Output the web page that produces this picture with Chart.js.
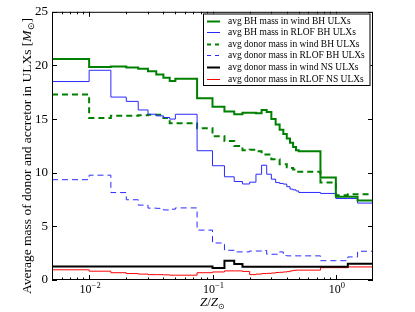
<!DOCTYPE html>
<html>
<head>
<meta charset="utf-8">
<script src="https://cdn.jsdelivr.net/npm/chart.js@4.4.0/dist/chart.umd.min.js"></script>
<style>
    html, body { margin: 0; padding: 0; background: #fff; }
</style>
</head>
<body>
<canvas id="chart" width="415" height="312"></canvas>
<script>
    // metallicity bin edges (Z/Zsun), one value per bin in each series
    const zEdges = [0.005, 0.01, 0.015, 0.02, 0.025, 0.03, 0.035, 0.04, 0.045, 0.05, 0.075, 0.1, 0.125, 0.15, 0.175, 0.2,
        0.225, 0.25, 0.275, 0.3, 0.325, 0.35, 0.375, 0.4, 0.425, 0.45, 0.475, 0.5, 0.75, 1.0, 1.25, 1.5, 2.0];

    const bhMassWindBH = [20.6, 19.85, 19.9, 19.8, 19.7, 19.45, 19.15, 18.85, 18.55, 18.75, 16.95, 16.15, 15.7, 15.45, 15.6, 15.6,
        15.55, 15.85, 15.65, 15.0, 14.5, 14.0, 13.6, 13.2, 12.8, 12.4, 12.1, 12.0, 9.55, 7.75, 7.75, 7.4];
    const bhMassRlofBH = [18.5, 19.55, 17.05, 16.65, 15.85, 15.45, 15.3, 15.15, 15.0, 15.45, 12.05, 10.65, 9.62, 9.18, 8.95, 9.12,
        9.86, 10.7, 9.86, 9.4, 9.08, 9.0, 8.94, 8.7, 8.47, 8.4, 8.3, 8.16, 8.07, 7.6, 7.6, 7.17];
    const donorMassWindBH = [17.3, 15.1, 15.3, 15.3, 15.35, 15.4, 15.4, 15.1, 14.6, 14.6, 14.15, 13.4, 12.95, 12.5, 12.1, 12.15,
        12.0, 11.7, 11.7, 11.25, 11.25, 10.8, 10.8, 10.5, 10.45, 10.3, 10.1, 10.1, 9.1, 7.9, 8.0, 8.0];
    const donorMassRlofBH = [9.35, 9.77, 8.15, 7.48, 6.98, 6.7, 6.68, 6.53, 6.6, 6.72, 4.65, 3.45, 2.77, 2.62, 2.62, 2.7,
        2.7, 2.75, 2.4, 2.4, 2.4, 2.62, 2.28, 2.25, 2.25, 2.25, 2.25, 2.25, 1.8, 1.8, 2.15, 2.68];
    const donorMassWindNS = [1.25, 1.25, 1.25, 1.25, 1.25, 1.25, 1.25, 1.25, 1.25, 1.25, 1.25, 1.12, 1.8, 1.5, 1.23, 1.23,
        1.23, 1.23, 1.23, 1.23, 1.23, 1.23, 1.23, 1.23, 1.23, 1.23, 1.23, 1.23, 1.23, 1.23, 1.52, 1.52];
    const donorMassRlofNS = [0.95, 0.82, 0.68, 0.6, 0.55, 0.5, 0.5, 0.48, 0.45, 0.45, 0.68, 0.75, 0.85, 0.85, 0.8, 0.5,
        0.55, 0.6, 0.62, 0.65, 0.7, 0.72, 0.75, 0.78, 0.85, 0.9, 0.92, 0.92, 1.15, 1.15, 1.22, 1.22];

    const seriesLabels = [
        'avg BH mass in wind BH ULXs',
        'avg BH mass in RLOF BH ULXs',
        'avg donor mass in wind BH ULXs',
        'avg donor mass in RLOF BH ULXs',
        'avg donor mass in wind NS ULXs',
        'avg donor mass in RLOF NS ULXs'
    ];

    const yTicks = [0, 5, 10, 15, 20, 25];
    const xTickValues = [0.01, 0.1, 1];
    const xTickExponents = ['\u22122', '\u22121', '0'];

    const serif = "'Liberation Serif', 'Times New Roman', serif";

    // step series: one point per bin edge, last bin value repeated at the right edge
    function steps(vals) {
        return zEdges.map((z, i) => ({ x: z, y: vals[Math.min(i, vals.length - 1)] }));
    }

    function drawRuns(ctx, runs, x0, y0) {
        let cx = x0;
        runs.forEach(r => {
            ctx.font = r.font;
            ctx.fillText(r.text, cx, y0 + (r.dy || 0));
            cx += ctx.measureText(r.text).width;
        });
        return cx - x0;
    }

    function runsWidth(ctx, runs) {
        let w = 0;
        runs.forEach(r => { ctx.font = r.font; w += ctx.measureText(r.text).width; });
        return w;
    }

    const axesLook = {
        id: 'axesLook',
        afterDatasetsDraw(chart) {
            const { ctx, chartArea: a, scales: { x, y } } = chart;
            ctx.save();
            ctx.strokeStyle = '#000';
            ctx.lineWidth = 1;

            // inward ticks on all four sides
            ctx.beginPath();
            yTicks.forEach(v => {
                const py = Math.round(y.getPixelForValue(v)) + 0.5;
                ctx.moveTo(a.left, py); ctx.lineTo(a.left + 5, py);
                ctx.moveTo(a.right, py); ctx.lineTo(a.right - 5, py);
            });
            for (let e = -3; e <= 0; e++) {
                for (let k = 1; k <= 9; k++) {
                    const v = k * Math.pow(10, e);
                    if (v <= 0.0051 || v >= 1.99) continue;
                    const px = Math.round(x.getPixelForValue(v)) + 0.5;
                    const len = k === 1 ? 5 : 2.5;
                    ctx.moveTo(px, a.bottom); ctx.lineTo(px, a.bottom - len);
                    ctx.moveTo(px, a.top); ctx.lineTo(px, a.top + len);
                }
            }
            ctx.stroke();
            ctx.strokeRect(a.left + 0.5, a.top + 0.5, a.right - a.left - 1, a.bottom - a.top - 1);

            // x tick labels 10^n
            ctx.fillStyle = '#000';
            ctx.textBaseline = 'alphabetic';
            ctx.textAlign = 'left';
            xTickValues.forEach((v, i) => {
                const runs = [
                    { text: '10', font: '12px ' + serif },
                    { text: xTickExponents[i], font: '8.5px ' + serif, dy: -5 }
                ];
                const w = runsWidth(ctx, runs);
                drawRuns(ctx, runs, x.getPixelForValue(v) - w / 2 + 1, a.bottom + 13);
            });

            // x axis title
            const xRuns = [
                { text: 'Z', font: 'italic 13px ' + serif },
                { text: '/', font: '13px ' + serif },
                { text: 'Z', font: 'italic 13px ' + serif },
                { text: '\u2299', font: '8px ' + serif, dy: 2.5 }
            ];
            const xw = runsWidth(ctx, xRuns);
            drawRuns(ctx, xRuns, (a.left + a.right) / 2 - xw / 2, a.bottom + 26);

            // y axis title, rotated
            const yRuns = [
                { text: 'Average mass of donor and accretor in ULXs [', font: '13.5px ' + serif },
                { text: 'M', font: 'italic 13.5px ' + serif },
                { text: '\u2299', font: '8.5px ' + serif, dy: 2.5 },
                { text: ']', font: '13.5px ' + serif }
            ];
            const yw = runsWidth(ctx, yRuns);
            ctx.translate(31, 156);
            ctx.rotate(-Math.PI / 2);
            drawRuns(ctx, yRuns, -yw / 2, 0);
            ctx.restore();
        },
        afterDraw(chart) {
            const { ctx } = chart;
            const box = { left: 203, top: 13.5, right: 370.5, bottom: 86 };
            ctx.save();
            ctx.fillStyle = '#fff';
            ctx.fillRect(box.left, box.top, box.right - box.left, box.bottom - box.top);
            ctx.strokeStyle = '#000';
            ctx.lineWidth = 1;
            ctx.strokeRect(box.left + 0.5, box.top + 0.5, box.right - box.left - 1, box.bottom - box.top - 1);

            // size the legend text so the longest label fills the box like the reference
            ctx.font = '11px ' + serif;
            const longest = Math.max(...chart.data.datasets.map(ds => ctx.measureText(ds.label).width));
            const size = Math.min(11, 11 * 137 / longest);
            ctx.font = size.toFixed(2) + 'px ' + serif;
            ctx.textBaseline = 'middle';
            ctx.textAlign = 'left';
            chart.data.datasets.forEach((ds, i) => {
                const ry = Math.round(box.top + 7 + i * 11.65) + 0.5;
                ctx.strokeStyle = ds.borderColor;
                ctx.lineWidth = ds.borderWidth;
                ctx.setLineDash(ds.borderDash && ds.borderDash.length ? [4, 4] : []);
                ctx.beginPath();
                ctx.moveTo(207, ry);
                ctx.lineTo(220, ry);
                ctx.stroke();
                ctx.setLineDash([]);
                ctx.fillStyle = '#000';
                ctx.fillText(ds.label, 228, ry + 0.5);
            });
            ctx.restore();
        }
    };

    const green = '#008000';
    const blue = '#2a2aff';

    const ctx = document.getElementById('chart').getContext('2d');
    const myChart = new Chart(ctx, {
        type: 'line',
        data: {
            datasets: [
                { label: seriesLabels[0], data: steps(bhMassWindBH), borderColor: green, borderWidth: 2, borderDash: [] },
                { label: seriesLabels[1], data: steps(bhMassRlofBH), borderColor: blue, borderWidth: 1, borderDash: [] },
                { label: seriesLabels[2], data: steps(donorMassWindBH), borderColor: green, borderWidth: 2, borderDash: [6, 4] },
                { label: seriesLabels[3], data: steps(donorMassRlofBH), borderColor: blue, borderWidth: 1, borderDash: [6, 4] },
                { label: seriesLabels[4], data: steps(donorMassWindNS), borderColor: '#000', borderWidth: 2, borderDash: [] },
                { label: seriesLabels[5], data: steps(donorMassRlofNS), borderColor: '#ff0000', borderWidth: 1, borderDash: [] }
            ].map(ds => Object.assign(ds, { stepped: 'before', fill: false, pointRadius: 0 }))
        },
        options: {
            responsive: false,
            animation: false,
            layout: { padding: { top: 10, right: 42, left: 0, bottom: 0 } },
            plugins: { legend: { display: false }, tooltip: { enabled: false } },
            scales: {
                x: {
                    type: 'logarithmic',
                    min: 0.005,
                    max: 2,
                    grid: { display: false, drawTicks: false },
                    border: { display: false },
                    ticks: { display: false },
                    afterFit: s => { s.height = 32; }
                },
                y: {
                    min: 0,
                    max: 25,
                    grid: { display: false, drawTicks: false },
                    border: { display: false },
                    ticks: { stepSize: 5, padding: 4, color: '#000', font: { family: serif, size: 13 } },
                    afterFit: s => { s.width = 52; }
                }
            }
        },
        plugins: [axesLook]
    });
</script>
</body>
</html>
